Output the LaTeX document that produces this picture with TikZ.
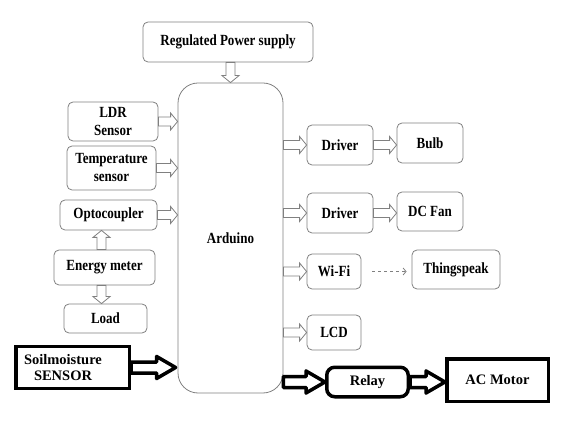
\documentclass[tikz,border=0pt]{standalone}
\usepackage{fontspec}
\setmainfont{Liberation Serif}[FakeStretch=0.84]
\newfontfamily\plainfont{Liberation Serif}
\usetikzlibrary{arrows.meta, calc}

\tikzset{
  hollow/.style n args={3}{to path={
    let \p1=(\tikztostart), \p2=(\tikztotarget),
        \n1={atan2(\y2-\y1,\x2-\x1)}, \n2={veclen(\x2-\x1,\y2-\y1)} in
    {[shift={(\p1)}, rotate=\n1]
      (0pt,-#1) -- ({\n2*1pt-#3},-#1) -- ({\n2*1pt-#3},-#2) -- ({\n2*1pt},0pt)
      -- ({\n2*1pt-#3},#2) -- ({\n2*1pt-#3},#1) -- (0pt,#1) -- cycle}
  }},
}

\begin{document}
\begin{tikzpicture}[
    x=1pt, y=-1pt,
    box/.style={draw=gray, line width=0.8pt, rounded corners=5pt, inner sep=0pt, align=center, font=\bfseries\fontsize{15.5}{18}\selectfont},
    blackbox/.style={draw=black, line width=3.5pt, inner sep=0pt, font=\plainfont\bfseries\fontsize{14.5}{16.5}\selectfont},
    grayarr/.style={draw=gray, line width=0.8pt, hollow={4.5pt}{8.5pt}{7pt}},
    bigarr/.style={draw=black, line width=3.5pt, line join=round, hollow={5.5pt}{11pt}{19pt}},
]
\useasboundingbox (0,0) rectangle (586,435);

% Supply and controller
\node[box, minimum width=170pt, minimum height=40pt] (rps) at (228,42) {Regulated Power supply};
\node[box, rounded corners=20pt, minimum width=105pt, minimum height=310pt] (ard) at (230.5,238) {Arduino};

% Inputs
\node[box, minimum width=90pt, minimum height=39pt] (ldr) at (113,121.5) {LDR\\Sensor};
\node[box, minimum width=89pt, minimum height=44pt] (temp) at (111.5,168) {Temperature\\sensor};
\node[box, minimum width=97pt, minimum height=30pt] (opto) at (108.5,215) {Optocoupler};
\node[box, minimum width=101pt, minimum height=35pt] (energy) at (104.5,267.5) {Energy meter};
\node[box, minimum width=83pt, minimum height=29pt] (load) at (105.5,318.5) {Load};
\node[blackbox, minimum width=113.5pt, minimum height=41.5pt, text width=97pt, align=left] (soil) at (72.5,367.5) {Soilmoisture\\\hspace*{10pt}SENSOR};

% Outputs
\node[box, minimum width=66pt, minimum height=40pt] (drv1) at (340,145) {Driver};
\node[box, minimum width=66pt, minimum height=40pt] (bulb) at (430,143) {Bulb};
\node[box, minimum width=66pt, minimum height=40pt] (drv2) at (340,213) {Driver};
\node[box, minimum width=66pt, minimum height=39pt] (fan) at (430,211.5) {DC Fan};
\node[box, minimum width=54pt, minimum height=35pt] (wifi) at (334,271.5) {Wi-Fi};
\node[box, minimum width=88pt, minimum height=39pt] (thing) at (456,269.5) {Thingspeak};
\node[box, minimum width=54pt, minimum height=35pt] (lcd) at (334,332.5) {LCD};
\node[blackbox, rounded corners=8pt, minimum width=81.5pt, minimum height=29.5pt] (relay) at (367.5,382) {Relay};
\node[blackbox, minimum width=101.5pt, minimum height=42.5pt] (acm) at (497.5,380) {AC Motor};

% Arrows
\draw[grayarr] (rps.south -| ard.north) to (ard.north);
\draw[grayarr] (ldr.east) to (ldr.east -| ard.west);
\draw[grayarr] (temp.east) to (temp.east -| ard.west);
\draw[grayarr] (opto.east) to (opto.east -| ard.west);
\draw[grayarr] ([xshift=-3pt]energy.north) to ([xshift=-3pt]energy.north |- opto.south);
\draw[grayarr] ([xshift=-3pt]energy.south) to ([xshift=-3pt]energy.south |- load.north);
\draw[bigarr] (soil.east) to ([xshift=-2pt]soil.east -| ard.west);
\draw[grayarr] (ard.east |- drv1.west) to (drv1.west);
\draw[grayarr] (ard.east |- drv2.west) to (drv2.west);
\draw[grayarr] (ard.east |- wifi.west) to (wifi.west);
\draw[grayarr] (ard.east |- lcd.west) to (lcd.west);
\draw[grayarr] (drv1.east) to (drv1.east -| bulb.west);
\draw[grayarr] (drv2.east) to (drv2.east -| fan.west);
\draw[gray, line width=0.8pt, dash pattern=on 3pt off 3pt, -{Straight Barb[length=3pt, width=7pt]}, shorten <=11pt, shorten >=5pt] (wifi.east) -- (wifi.east -| thing.west);
\draw[bigarr] (ard.east |- relay.west) to (relay.west);
\draw[bigarr] (relay.east) to (relay.east -| acm.west);

\end{tikzpicture}
\end{document}
